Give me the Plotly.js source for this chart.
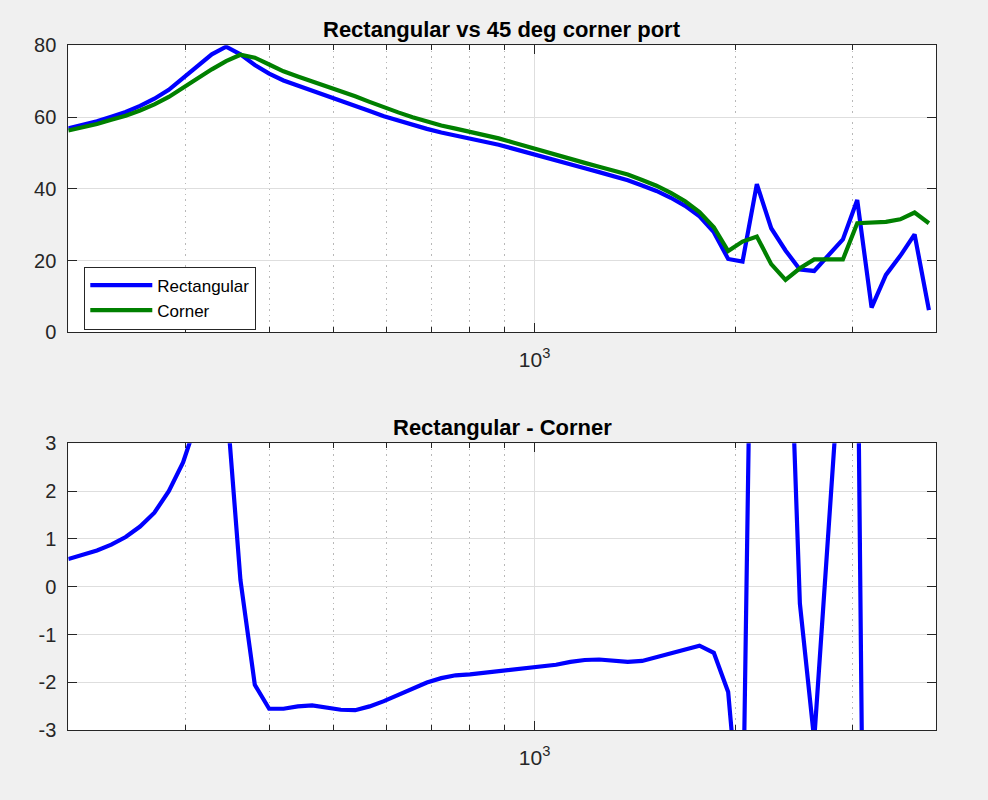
<!DOCTYPE html>
<html><head><meta charset="utf-8">
<script src="https://cdn.plot.ly/plotly-3.0.1.min.js"></script>
<style>html,body{margin:0;padding:0;background:#f0f0f0;} #chart{width:988px;height:800px;}</style>
</head><body><div id="chart"></div>
<script>
// Frequencies (Hz) of the sampled points (1/14-octave spacing read from the kinks)
const freq = [200.0,210.2,220.8,232.0,243.8,256.2,269.2,282.9,297.2,312.3,328.2,344.8,362.3,380.7,400.0,420.3,441.6,464.0,487.6,512.3,538.3,565.7,594.4,624.5,656.2,689.5,724.5,761.3,800.0,840.6,883.3,928.1,975.2,1024.7,1076.7,1131.4,1188.8,1249.1,1312.5,1379.1,1449.1,1522.6,1600.0,1681.2,1766.5,1856.1,1950.3,2049.3,2153.2,2262.5,2377.2,2497.9,2624.6,2757.8,2897.7,3044.7,3199.2,3361.5,3532.1,3711.3,3899.6];
const rectangular = [56.84,57.8,58.8,60.1,61.4,63.1,65.1,67.6,70.9,74.25,77.5,79.6,77.5,74.5,72.1,70.2,68.8,67.5,66.2,64.8,63.2,61.7,60.2,59.0,57.8,56.7,55.7,54.9,54.1,53.2,52.3,51.2,50.05,49.0,47.8,46.7,45.7,44.65,43.5,42.4,40.9,39.4,37.5,35.25,32.3,27.9,20.45,19.7,41.3,29.0,22.8,17.5,17.1,21.5,25.9,36.9,6.9,16.0,21.3,27.3,6.2];
const corner = [56.26,57.14,58.04,59.22,60.36,61.84,63.55,65.6,68.3,70.75,73.3,75.6,77.36,76.55,74.65,72.75,71.3,69.98,68.72,67.37,65.78,64.22,62.62,61.3,59.95,58.73,57.63,56.76,55.93,55.0,54.06,52.93,51.75,50.67,49.43,48.27,47.23,46.17,45.05,43.97,42.45,40.87,38.88,36.54,33.53,29.28,22.65,25.3,26.7,19.0,14.6,17.85,20.3,20.3,20.3,30.4,30.7,30.8,31.5,33.4,30.4];
const difference = [0.58,0.66,0.76,0.88,1.04,1.26,1.55,2.0,2.6,3.5,4.2,4.0,0.14,-2.05,-2.55,-2.55,-2.5,-2.48,-2.52,-2.57,-2.58,-2.5,-2.39,-2.26,-2.12,-2.0,-1.91,-1.85,-1.83,-1.8,-1.76,-1.73,-1.7,-1.67,-1.63,-1.57,-1.53,-1.52,-1.55,-1.57,-1.55,-1.47,-1.38,-1.29,-1.23,-1.38,-2.2,-5.6,14.6,10.0,8.2,-0.35,-3.2,1.2,5.6,6.5,-23.8,-14.8,-10.2,-6.1,-24.2];

const xTickVals = [1000];
const xTickText = ['10<sup>3</sup>'];
const xMinorVals = [300,400,500,600,700,800,900,2000,3000];
const topYTicks = [0,20,40,60,80];
const botYTicks = [-3,-2,-1,0,1,2,3];
const botYText = ['-3','-2','-1','0','1','2','3'];
const seriesNames = ['Rectangular','Corner'];
const titles = ['Rectangular vs 45 deg corner port','Rectangular - Corner'];

const FONT = 'Liberation Sans, Arial, Helvetica, sans-serif';
const AX = '#262626';

function xaxisDef(anchor) {
  return {
    type: 'log', range: [Math.log10(200), Math.log10(4000)], anchor: anchor,
    domain: [68.3/988, 936.3/988],
    tickmode: 'array', tickvals: xTickVals, ticktext: xTickText,
    ticks: 'inside', ticklen: 9, tickcolor: AX, tickwidth: 1,
    showline: true, linecolor: AX, linewidth: 1, mirror: 'allticks',
    showgrid: true, gridcolor: '#dedede', gridwidth: 1,
    zeroline: false, ticklabelstandoff: 8,
    tickfont: {family: FONT, size: 21, color: AX},
    minor: {tickmode: 'array', tickvals: xMinorVals, ticks: 'inside', ticklen: 5, tickcolor: AX,
            showgrid: true, gridcolor: '#b8b8b8', griddash: '1.5px,4px', gridwidth: 1}
  };
}
function yaxisDef(anchor, dom, rng, tv, tt) {
  const a = {
    anchor: anchor, domain: dom, range: rng,
    tickmode: 'array', tickvals: tv,
    ticks: 'inside', ticklen: 9, tickcolor: AX, tickwidth: 1,
    showline: true, linecolor: AX, linewidth: 1, mirror: 'allticks',
    showgrid: true, gridcolor: '#dedede', gridwidth: 1,
    zeroline: false, ticklabelstandoff: 7,
    tickfont: {family: FONT, size: 20, color: AX}
  };
  if (tt) a.ticktext = tt;
  return a;
}

const traces = [
  {x: freq, y: rectangular, name: seriesNames[0], type: 'scatter', mode: 'lines',
   line: {color: '#0000ff', width: 4.2}, xaxis: 'x', yaxis: 'y'},
  {x: freq, y: corner, name: seriesNames[1], type: 'scatter', mode: 'lines',
   line: {color: '#008000', width: 4.2}, xaxis: 'x', yaxis: 'y'},
  {x: freq, y: difference, name: titles[1], type: 'scatter', mode: 'lines', showlegend: false,
   line: {color: '#0000ff', width: 4.2}, xaxis: 'x2', yaxis: 'y2'}
];

const topDom = [(800-332.3)/800, (800-45.3)/800];
const botDom = [(800-730.3)/800, (800-443.3)/800];

const layout = {
  width: 988, height: 800,
  margin: {l: 0, r: 0, t: 0, b: 0},
  paper_bgcolor: '#f0f0f0', plot_bgcolor: '#ffffff',
  showlegend: true,
  xaxis: xaxisDef('y'),
  yaxis: yaxisDef('x', topDom, [0, 80], topYTicks),
  xaxis2: xaxisDef('y2'),
  yaxis2: yaxisDef('x2', botDom, [-3, 3], botYTicks, botYText),
  legend: {x: 84.3/988, y: 1-266.5/800, xanchor: 'left', yanchor: 'top',
           bgcolor: '#ffffff', bordercolor: AX, borderwidth: 1,
           font: {family: FONT, size: 17, color: '#000000'}, itemwidth: 62, tracegroupgap: 0},
  annotations: [
    {text: '<b>' + titles[0] + '</b>', xref: 'paper', yref: 'paper', x: 502.3/988, y: topDom[1] + 1/800,
     xanchor: 'center', yanchor: 'bottom', showarrow: false, font: {family: FONT, size: 22, color: '#000'}},
    {text: '<b>' + titles[1] + '</b>', xref: 'paper', yref: 'paper', x: 502.3/988, y: botDom[1] + 1/800,
     xanchor: 'center', yanchor: 'bottom', showarrow: false, font: {family: FONT, size: 22, color: '#000'}}
  ]
};

Plotly.newPlot('chart', traces, layout, {displayModeBar: false, staticPlot: true});
</script></body></html>
